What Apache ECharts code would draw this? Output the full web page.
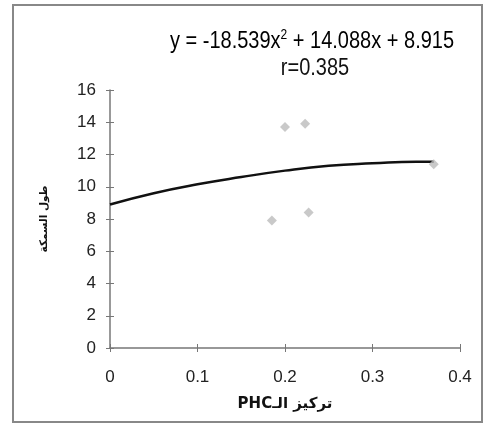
<!DOCTYPE html>
<html>
<head>
<meta charset="utf-8">
<script src="https://cdn.jsdelivr.net/npm/echarts@6/dist/echarts.min.js"></script>
<style>html,body{margin:0;padding:0;background:#fff;}#c{width:485px;height:426px;}</style>
</head>
<body>
<div id="c"></div>
<script>
// Observed data points (PHC concentration, fish length)
const pointX = [0.185, 0.200, 0.223, 0.227, 0.370];
const pointY = [7.9, 13.7, 13.9, 8.4, 11.4];
// Trend line
const trendX = [0, 0.05, 0.10, 0.15, 0.20, 0.25, 0.30, 0.35, 0.37];
const trendY = [8.9, 9.6, 10.15, 10.6, 11.0, 11.3, 11.45, 11.55, 11.55];
// Axis ticks
const xTicks = [0, 0.1, 0.2, 0.3, 0.4];
const yTicks = [0, 2, 4, 6, 8, 10, 12, 14, 16];
const eqPart1 = 'y = -18.539x';
const eqSup = '2';
const eqPart2 = ' + 14.088x + 8.915';
const rText = 'r=0.385';
const xName = 'PHCتركيز الـ';
const yName = 'طول السمكة';

const chart = echarts.init(document.getElementById('c'), null, {renderer: 'canvas'});
const font = 'Liberation Sans, Arial, sans-serif';
const axisBase = {
  min: 0,
  axisLine: {show: true, lineStyle: {color: '#777', width: 1.5}},
  splitLine: {show: false}
};
chart.setOption({
  animation: false,
  backgroundColor: '#fff',
  grid: {left: 110, right: 25, top: 90, bottom: 78},
  graphic: [
    {type: 'rect', shape: {x: 13, y: 5, width: 469, height: 417},
     style: {fill: 'none', stroke: '#888', lineWidth: 2}, z: -1},
    {type: 'text', x: 312, y: 41, scaleY: 1.15,
     style: {
       text: '{a|' + eqPart1 + '}{s|' + eqSup + '}{a|' + eqPart2 + '}',
       align: 'center', verticalAlign: 'middle',
       rich: {
         a: {fontFamily: font, fontSize: 20, color: '#111', verticalAlign: 'bottom', lineHeight: 22},
         s: {fontFamily: font, fontSize: 12, color: '#111', verticalAlign: 'top', lineHeight: 22}
       }
     }},
    {type: 'text', x: 315, y: 69, scaleY: 1.15,
     style: {text: rText, font: '20px ' + font, fill: '#111', align: 'center', verticalAlign: 'middle'}}
  ],
  xAxis: [
    Object.assign({}, axisBase, {
      type: 'value', max: 0.4, interval: 0.1,
      name: xName, nameLocation: 'middle', nameGap: 49,
      nameTextStyle: {fontFamily: 'DejaVu Sans, ' + font, fontSize: 15, fontWeight: 'bold', color: '#111'},
      axisTick: {show: true, length: 4, lineStyle: {color: '#777'}},
      axisLabel: {fontFamily: font, fontSize: 17, color: '#222', margin: 21,
        formatter: v => xTicks.indexOf(+v.toFixed(1)) >= 0 ? String(+v.toFixed(1)) : ''}
    }),
    Object.assign({}, axisBase, {
      type: 'value', max: 0.4, interval: 0.1, position: 'bottom',
      axisLine: {show: false}, axisLabel: {show: false},
      axisTick: {show: true, inside: true, length: 4, lineStyle: {color: '#777'}}
    })
  ],
  yAxis: [
    Object.assign({}, axisBase, {
      type: 'value', max: 16, interval: 2,
      name: yName, nameLocation: 'middle', nameGap: 60, nameRotate: 90,
      nameTextStyle: {fontFamily: 'DejaVu Sans, ' + font, fontSize: 10.5, fontWeight: 'bold', color: '#111'},
      axisTick: {show: true, length: 4, lineStyle: {color: '#777'}},
      axisLabel: {fontFamily: font, fontSize: 17, color: '#222', margin: 14,
        formatter: v => yTicks.indexOf(v) >= 0 ? String(v) : ''}
    }),
    Object.assign({}, axisBase, {
      type: 'value', max: 16, interval: 2, position: 'left',
      axisLine: {show: false}, axisLabel: {show: false},
      axisTick: {show: true, inside: true, length: 4, lineStyle: {color: '#777'}}
    })
  ],
  series: [
    {
      type: 'line', smooth: true, showSymbol: false,
      data: trendX.map((x, i) => [x, trendY[i]]),
      lineStyle: {color: '#111', width: 2.5}, z: 2
    },
    {
      type: 'scatter', symbol: 'diamond', symbolSize: 10,
      data: pointX.map((x, i) => [x, pointY[i]]),
      itemStyle: {color: '#bbb'}, z: 3
    }
  ]
});
</script>
</body>
</html>
